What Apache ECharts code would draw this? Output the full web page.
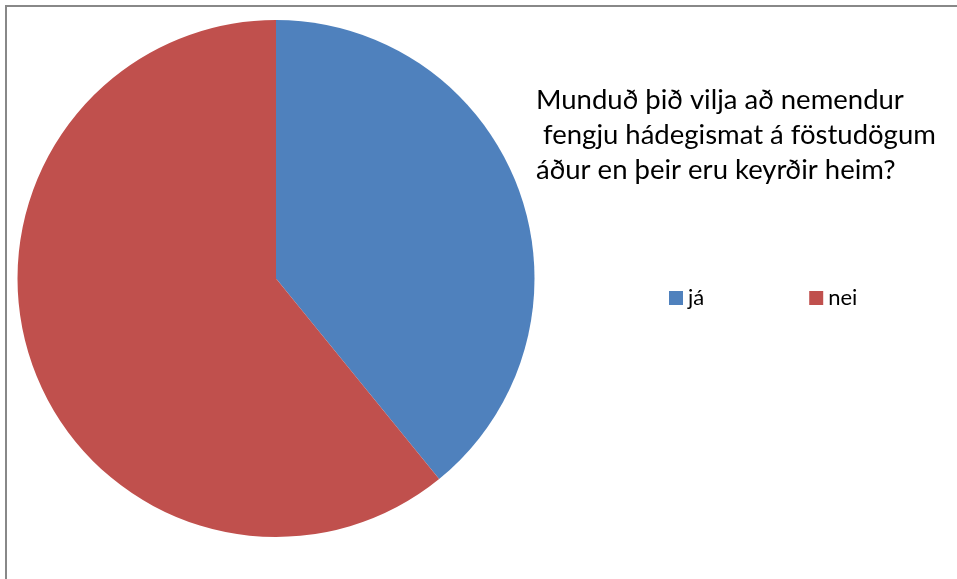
<!DOCTYPE html>
<html>
<head>
<meta charset="utf-8">
<script src="https://cdn.jsdelivr.net/npm/echarts@6/dist/echarts.min.js"></script>
<style>
  html, body { margin: 0; padding: 0; background: #fff; }
  #chart { width: 957px; height: 579px; }
</style>
</head>
<body>
<div id="chart"></div>
<script>
const categories = ['já', 'nei']
const answers = [9, 14]
const colors = ['#4F81BD', '#C0504D']
const titleLines = [
  'Munduð þið vilja að nemendur',
  ' fengju hádegismat á föstudögum',
  'áður en þeir eru keyrðir heim?'
]

const chart = echarts.init(document.getElementById('chart'))

chart.setOption({
  animation: false,
  color: colors,
  title: {
    text: titleLines.join('\n'),
    left: 531,
    top: 78,
    textStyle: {
      fontFamily: 'Lato',
      fontWeight: 'normal',
      fontSize: 27.5,
      lineHeight: 35,
      color: '#000'
    }
  },
  legend: {
    left: 664,
    top: 282,
    itemWidth: 14,
    itemHeight: 14,
    itemGap: 105,
    icon: 'rect',
    textStyle: { fontFamily: 'Lato', fontSize: 22, color: '#000' },
    data: categories
  },
  graphic: [{
    type: 'rect',
    shape: { x: 6, y: 6, width: 960, height: 590 },
    style: { fill: 'none', stroke: '#888', lineWidth: 2 },
    silent: true
  }],
  series: [{
    type: 'pie',
    center: [276, 278.5],
    radius: 258.5,
    startAngle: 90,
    clockwise: true,
    label: { show: false },
    labelLine: { show: false },
    emphasis: { disabled: true },
    data: categories.map((name, i) => ({ name, value: answers[i] }))
  }]
})
</script>
</body>
</html>
